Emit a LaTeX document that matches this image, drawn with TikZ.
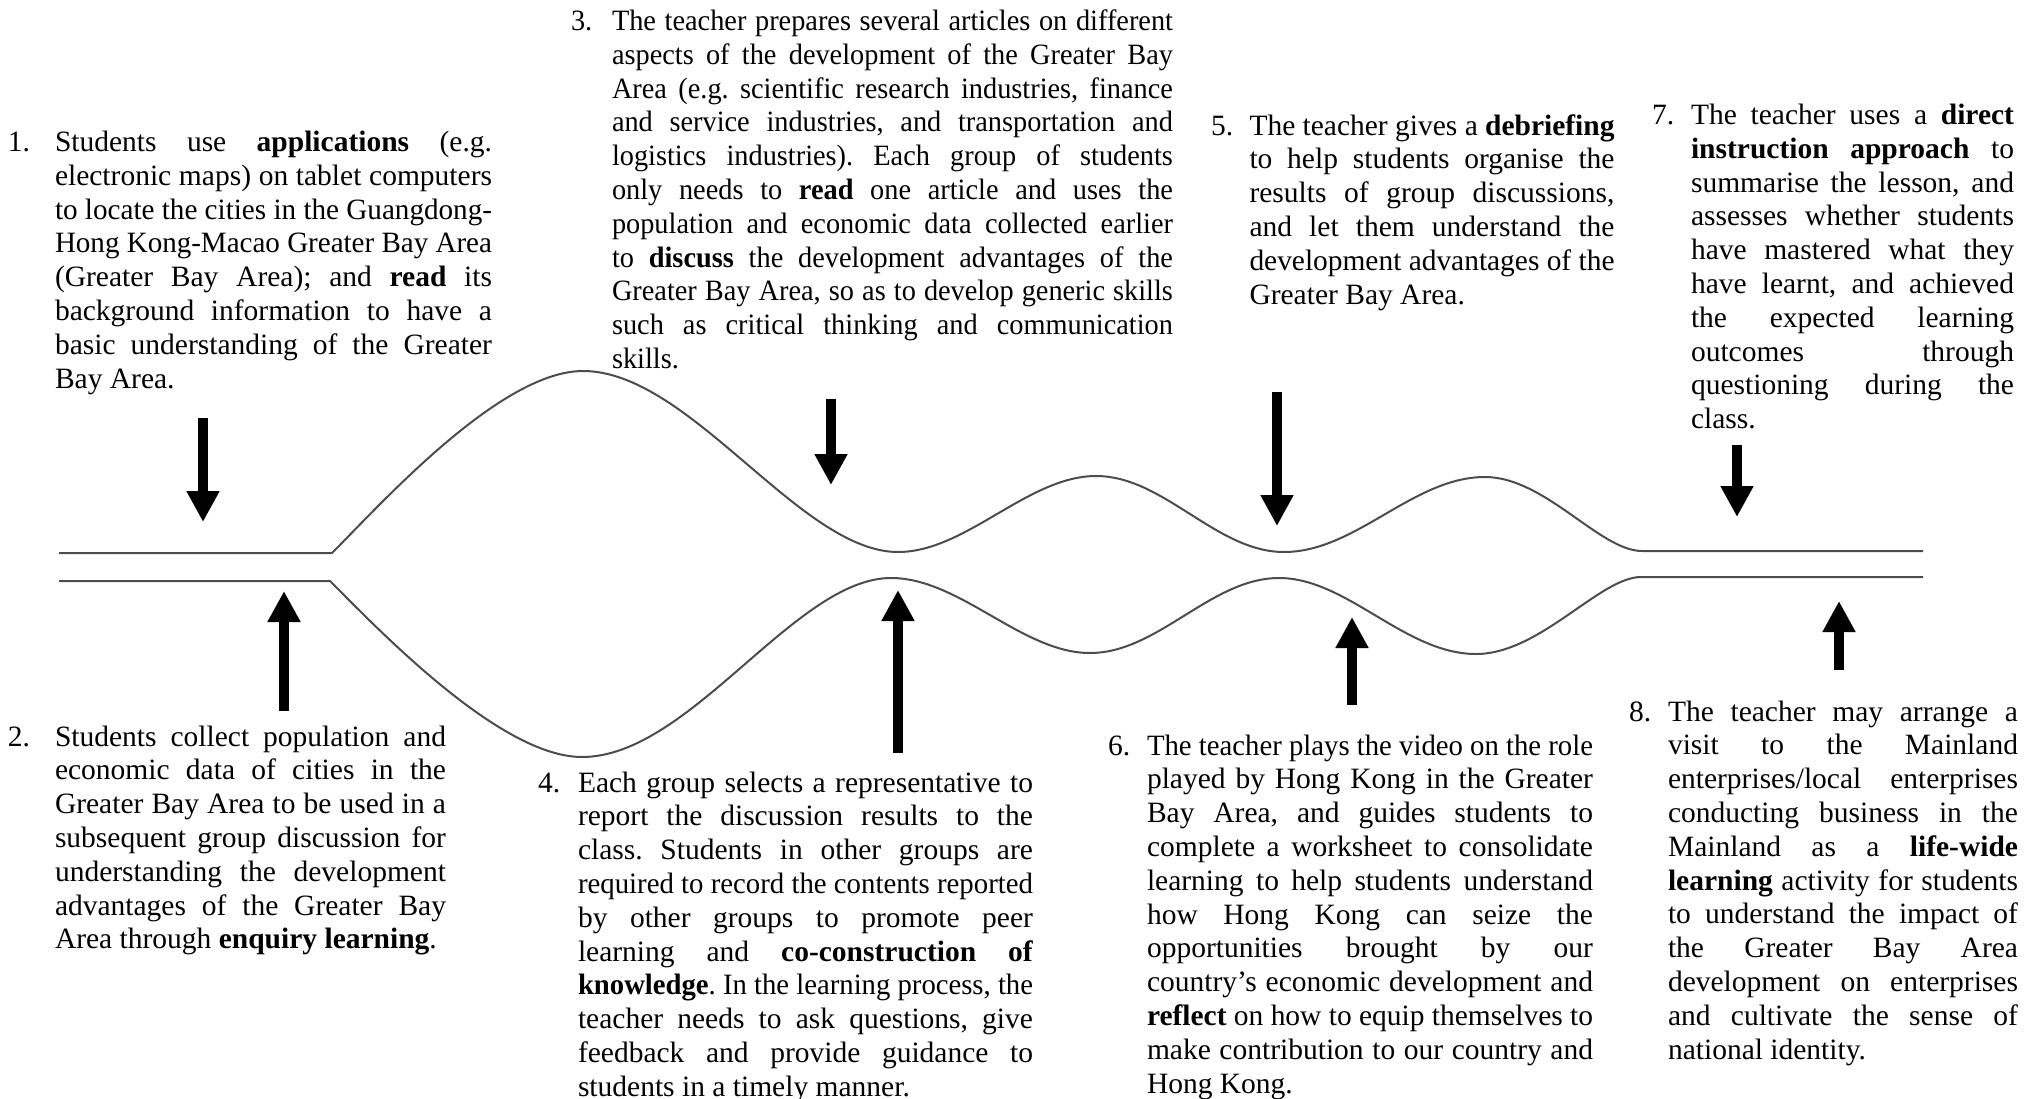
\documentclass[tikz,border=0pt]{standalone}
\usepackage{fontspec}
\setmainfont{Liberation Serif}
\usepackage{graphicx}
\usetikzlibrary{arrows.meta}
\frenchspacing

\newlength\jw
\newlength\jwi
\newsavebox\jbox
\def\hsd{1}
\newcommand\setblk[2]{\setlength\jw{#1}\def\hsd{#2}\pgfmathsetlength\jwi{\jw/#2}}
\newcommand\jl[1]{\sbox\jbox{#1}\ifdim\wd\jbox>\jwi\relax\resizebox{\jw}{\height}{\usebox\jbox}\else\scalebox{\hsd}[1]{\makebox[\jwi][s]{#1}}\fi\par}
\newcommand\jlast[1]{\sbox\jbox{#1}\ifdim\wd\jbox>\jwi\relax\resizebox{\jw}{\height}{\usebox\jbox}\else\scalebox{\hsd}[1]{\usebox\jbox}\fi\par}

\begin{document}
\begin{tikzpicture}[x=0.5pt,y=-0.5pt,
  txt/.style={inner sep=0pt, outer sep=0pt, anchor=base west, font=\fontsize{14.75pt}{16.9pt}\selectfont},
  wave/.style={draw=black!70, line width=1pt},
  bigarrow/.style={draw=black, line width=5.25pt, -{Triangle[width=15.5pt,length=15.5pt]}}]
\useasboundingbox (0,0) rectangle (2044,1098);

% ---- channel lines ----
\draw[wave] (59,553) -- (332,553)
  .. controls (380,505) and (500,371) .. (583,371)
  .. controls (690,371) and (800,552) .. (898,552)
  .. controls (966,552) and (1028,476) .. (1096,476)
  .. controls (1164,476) and (1216,552) .. (1284,552)
  .. controls (1356,552) and (1413,477) .. (1485,477)
  .. controls (1545,477) and (1600,551) .. (1642,551) -- (1923,551);
\draw[wave] (59,581) -- (330,581)
  .. controls (378,629) and (500,757) .. (582,757)
  .. controls (690,757) and (795,578) .. (891,578)
  .. controls (960,578) and (1022,653) .. (1090,653)
  .. controls (1158,653) and (1211,578) .. (1279,578)
  .. controls (1347,578) and (1405,654) .. (1476,654)
  .. controls (1540,654) and (1600,577) .. (1641,577) -- (1923,577);

% ---- text blocks ----
\node[txt] (n1) at (8,151.5) {1.};
\node[txt] (t1) at (55,151.5) {\setblk{218.5pt}{1}\parbox[t]{\jw}{%
\jl{Students use \textbf{applications} (e.g.}
\jl{electronic maps) on tablet computers}
\jl{to locate the cities in the Guangdong-}
\jl{Hong Kong-Macao Greater Bay Area}
\jl{(Greater Bay Area); and \textbf{read} its}
\jl{background information to have a}
\jl{basic understanding of the Greater}
\jlast{Bay Area.}}};

\node[txt] (n2) at (8,746) {2.};
\node[txt] (t2) at (55,746) {\setblk{195.5pt}{1}\parbox[t]{\jw}{%
\jl{Students collect population and}
\jl{economic data of cities in the}
\jl{Greater Bay Area to be used in a}
\jl{subsequent group discussion for}
\jl{understanding the development}
\jl{advantages of the Greater Bay}
\jlast{Area through \textbf{enquiry learning}.}}};

\node[txt] (n3) at (571,30.5) {\scalebox{0.96}[1]{3.}};
\node[txt] (t3) at (612,30.5) {\setblk{280.5pt}{0.96}\parbox[t]{\jw}{%
\jl{The teacher prepares several articles on different}
\jl{aspects of the development of the Greater Bay}
\jl{Area (e.g. scientific research industries, finance}
\jl{and service industries, and transportation and}
\jl{logistics industries). Each group of students}
\jl{only needs to \textbf{read} one article and uses the}
\jl{population and economic data collected earlier}
\jl{to \textbf{discuss} the development advantages of the}
\jl{Greater Bay Area, so as to develop generic skills}
\jl{such as critical thinking and communication}
\jlast{skills.}}};

\node[txt] (n4) at (538,792) {4.};
\node[txt] (t4) at (578,792) {\setblk{227.5pt}{1}\parbox[t]{\jw}{%
\jl{Each group selects a representative to}
\jl{report the discussion results to the}
\jl{class. Students in other groups are}
\jl{required to record the contents reported}
\jl{by other groups to promote peer}
\jl{learning and \textbf{co-construction of}}
\jl{\textbf{knowledge}. In the learning process, the}
\jl{teacher needs to ask questions, give}
\jl{feedback and provide guidance to}
\jlast{students in a timely manner.}}};

\node[txt] (n5) at (1211,135) {5.};
\node[txt] (t5) at (1249.5,135) {\setblk{182.5pt}{1}\parbox[t]{\jw}{%
\jl{The teacher gives a \textbf{debriefing}}
\jl{to help students organise the}
\jl{results of group discussions,}
\jl{and let them understand the}
\jl{development advantages of the}
\jlast{Greater Bay Area.}}};

\node[txt] (n6) at (1108,755) {6.};
\node[txt] (t6) at (1147,755) {\setblk{223pt}{1}\parbox[t]{\jw}{%
\jl{The teacher plays the video on the role}
\jl{played by Hong Kong in the Greater}
\jl{Bay Area, and guides students to}
\jl{complete a worksheet to consolidate}
\jl{learning to help students understand}
\jl{how Hong Kong can seize the}
\jl{opportunities brought by our}
\jl{country’s economic development and}
\jl{\textbf{reflect} on how to equip themselves to}
\jl{make contribution to our country and}
\jlast{Hong Kong.}}};

\node[txt] (n7) at (1652,124.5) {7.};
\node[txt] (t7) at (1691,124.5) {\setblk{161.5pt}{1}\parbox[t]{\jw}{%
\jl{The teacher uses a \textbf{direct}}
\jl{\textbf{instruction approach} to}
\jl{summarise the lesson, and}
\jl{assesses whether students}
\jl{have mastered what they}
\jl{have learnt, and achieved}
\jl{the expected learning}
\jl{outcomes through}
\jl{questioning during the}
\jlast{class.}}};

\node[txt] (n8) at (1629,721) {8.};
\node[txt] (t8) at (1668,721) {\setblk{175pt}{1}\parbox[t]{\jw}{%
\jl{The teacher may arrange a}
\jl{visit to the Mainland}
\jl{enterprises/local enterprises}
\jl{conducting business in the}
\jl{Mainland as a \textbf{life-wide}}
\jl{\textbf{learning} activity for students}
\jl{to understand the impact of}
\jl{the Greater Bay Area}
\jl{development on enterprises}
\jl{and cultivate the sense of}
\jlast{national identity.}}};

% ---- arrows ----
\coordinate (a1s) at (203,418);  \coordinate (a1e) at (203,522);
\coordinate (a2s) at (284,711);  \coordinate (a2e) at (284,591);
\coordinate (a3s) at (831,399);  \coordinate (a3e) at (831,485);
\coordinate (a4s) at (898,753);  \coordinate (a4e) at (898,590);
\coordinate (a5s) at (1277,392); \coordinate (a5e) at (1277,526);
\coordinate (a6s) at (1352,705); \coordinate (a6e) at (1352,617);
\coordinate (a7s) at (1737,445); \coordinate (a7e) at (1737,517);
\coordinate (a8s) at (1839,670); \coordinate (a8e) at (1839,601);
\foreach \i in {1,...,8} {\draw[bigarrow] (a\i s) -- (a\i e);}
\end{tikzpicture}
\end{document}
